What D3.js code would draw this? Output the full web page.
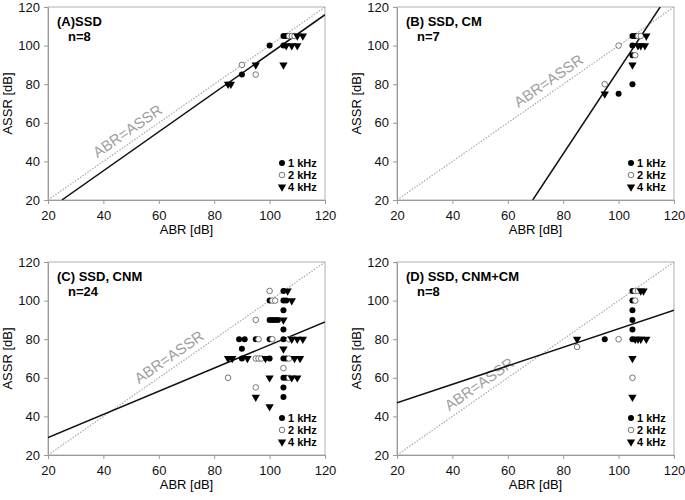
<!DOCTYPE html>
<html>
<head>
<meta charset="utf-8">
<script src="https://cdn.jsdelivr.net/npm/d3@7"></script>
<style>
body{margin:0;background:#fff}
svg{font-family:"Liberation Sans",Arial,sans-serif}
</style>
</head>
<body>
<svg id="chart" width="685" height="500"></svg>
<script>
// axis ticks (dB) and legend
const tickVals = [20, 40, 60, 80, 100, 120];
const freqLabels = ['1 kHz', '2 kHz', '4 kHz'];
const panelTitles = ['(A)SSD', '(B) SSD, CM', '(C) SSD, CNM', '(D) SSD, CNM+CM'];
const panelN = ['n=8', 'n=7', 'n=24', 'n=8'];

// (A) SSD  [ABR, ASSR]
const ssd1k = [[90,85],[100,100],[105,105],[106,105],[105,100]];
const ssd2k = [[90,90],[95,85],[107,105],[108,105],[109,105]];
const ssd4k = [[85,80],[86,80],[95,90],[105,90],[110,105],[112,105],[106,100],[108,100],[110,100]];
const ssdFit = [[25,20],[120,116]];

// (B) SSD, CM
const cm1k = [[105,105],[106,105],[105,100],[105,95],[105,80],[100,75]];
const cm2k = [[100,100],[107,105],[108,105],[106,95],[95,80]];
const cm4k = [[110,105],[107,100],[108,100],[109.5,100],[105,90],[95,75]];
const cmFit = [[69,20],[115,120]];

// (C) SSD, CNM
const cnm1k = [[105,105],[100,100],[105,100],[106,100],[105,95],[100,90],[101,90],[102,90],[103,90],
  [105,85],[89,80],[91,80],[95,80],[100,80],[105,80],[90,75],[90,70],[100,70],[105,70],[106,70],
  [105,60],[106,60],[105,55],[105,50]];
const cnm2k = [[100,105],[101,100],[102,100],[95,90],[96,80],[101,80],[107,80],[95,70],[96,70],[97,70],
  [107,70],[105,65],[85,60],[107,60],[95,55]];
const cnm4k = [[106.5,105],[108,100],[105,90],[108,80],[110,80],[112,80],[105,75],[85,70],[86.5,70],
  [92,70],[98.5,70],[109,70],[111,70],[100,60],[108,60],[110,60],[95,50],[100,45]];
const cnmFit = [[20,29],[120,89]];

// (D) SSD, CNM+CM
const mix1k = [[105,105],[105,100],[105,95],[105,90],[105,85],[95,80],[105,80]];
const mix2k = [[106,105],[107,105],[106,100],[100,80],[85,76],[105,60]];
const mix4k = [[108,105],[109,105],[85,80],[106,80],[107,80],[108,80],[110,80],[105,70],[105,50]];
const mixFit = [[20,47],[120,95]];

const panelData = [
  {k1: ssd1k, k2: ssd2k, k4: ssd4k, fit: ssdFit, labelAt: 51},
  {k1: cm1k, k2: cm2k, k4: cm4k, fit: cmFit, labelAt: 77},
  {k1: cnm1k, k2: cnm2k, k4: cnm4k, fit: cnmFit, labelAt: 66},
  {k1: mix1k, k2: mix2k, k4: mix4k, fit: mixFit, labelAt: 52}
];

// layout of the four plot boxes
const boxes = [
  {left: 48, right: 325, top: 7, bottom: 200},
  {left: 397, right: 674, top: 7, bottom: 200},
  {left: 48, right: 325, top: 262, bottom: 455},
  {left: 397, right: 674, top: 262, bottom: 455}
];

const svg = d3.select('#chart');
const gray = '#9a9a9a';
const tri = d3.symbol().type(d3.symbolTriangle).size(30);

boxes.forEach((b, i) => {
  const d = panelData[i];
  const x = d3.scaleLinear().domain([20, 120]).range([b.left, b.right]);
  const y = d3.scaleLinear().domain([20, 120]).range([b.bottom, b.top]);
  const g = svg.append('g');

  g.append('clipPath').attr('id', 'clip' + i)
    .append('rect').attr('x', b.left).attr('y', b.top)
    .attr('width', b.right - b.left).attr('height', b.bottom - b.top);

  g.append('rect')
    .attr('x', b.left).attr('y', b.top)
    .attr('width', b.right - b.left).attr('height', b.bottom - b.top)
    .attr('fill', 'none').attr('stroke', '#b0b0b0').attr('stroke-width', 1);

  const xAxis = g.append('g').attr('transform', `translate(0,${b.bottom})`)
    .call(d3.axisBottom(x).tickValues(tickVals).tickSize(4).tickSizeOuter(0).tickPadding(4));
  const yAxis = g.append('g').attr('transform', `translate(${b.left},0)`)
    .call(d3.axisLeft(y).tickValues(tickVals).tickSize(4).tickSizeOuter(0).tickPadding(4));
  [xAxis, yAxis].forEach(a => {
    a.select('.domain').attr('stroke', gray);
    a.selectAll('.tick line').attr('stroke', gray);
    a.selectAll('.tick text').attr('font-size', 13).attr('fill', '#111')
      .attr('font-family', '"Liberation Sans",Arial,sans-serif');
  });
  xAxis.selectAll('.tick text').attr('dy', '0.9em');

  g.append('text')
    .attr('x', (b.left + b.right) / 2).attr('y', b.bottom + 34)
    .attr('text-anchor', 'middle').attr('font-size', 13).text('ABR [dB]');
  g.append('text')
    .attr('transform', `translate(${b.left - 36},${(b.top + b.bottom) / 2}) rotate(-90)`)
    .attr('text-anchor', 'middle').attr('font-size', 13).text('ASSR [dB]');

  const plot = g.append('g').attr('clip-path', `url(#clip${i})`);

  // identity line ABR=ASSR
  plot.append('line')
    .attr('x1', x(20)).attr('y1', y(20)).attr('x2', x(120)).attr('y2', y(120))
    .attr('stroke', '#a8a8a8').attr('stroke-width', 1.2).attr('stroke-dasharray', '1.5,1.5');

  const ang = -Math.atan((b.bottom - b.top) / (b.right - b.left)) * 180 / Math.PI;
  plot.append('text')
    .attr('transform', `translate(${x(d.labelAt)},${y(d.labelAt)}) rotate(${ang}) translate(0,-6)`)
    .attr('text-anchor', 'middle').attr('font-size', 15).attr('fill', '#a0a0a0')
    .text('ABR=ASSR');

  // regression line
  plot.append('line')
    .attr('x1', x(d.fit[0][0])).attr('y1', y(d.fit[0][1]))
    .attr('x2', x(d.fit[1][0])).attr('y2', y(d.fit[1][1]))
    .attr('stroke', '#111').attr('stroke-width', 1.5);

  plot.selectAll('.k1').data(d.k1).join('circle')
    .attr('cx', p => x(p[0])).attr('cy', p => y(p[1])).attr('r', 3).attr('fill', '#000');
  plot.selectAll('.k2').data(d.k2).join('circle')
    .attr('cx', p => x(p[0])).attr('cy', p => y(p[1])).attr('r', 2.8)
    .attr('fill', '#fff').attr('stroke', '#555').attr('stroke-width', 0.8);
  plot.selectAll('.k4').data(d.k4).join('path')
    .attr('d', tri)
    .attr('transform', p => `translate(${x(p[0])},${y(p[1])}) rotate(180)`)
    .attr('fill', '#000');

  // titles
  g.append('text').attr('x', b.left + 9).attr('y', b.top + 19)
    .attr('font-size', 13).attr('font-weight', 'bold').text(panelTitles[i]);
  g.append('text').attr('x', b.left + 20).attr('y', b.top + 34)
    .attr('font-size', 13).attr('font-weight', 'bold').text(panelN[i]);

  // legend
  const lg = g.append('g');
  freqLabels.forEach((lab, j) => {
    const ly = b.bottom - 37 + j * 12;
    const lx = b.right - 43;
    if (j === 0) lg.append('circle').attr('cx', lx).attr('cy', ly).attr('r', 3).attr('fill', '#000');
    if (j === 1) lg.append('circle').attr('cx', lx).attr('cy', ly).attr('r', 2.8)
      .attr('fill', '#fff').attr('stroke', '#555').attr('stroke-width', 0.8);
    if (j === 2) lg.append('path').attr('d', tri)
      .attr('transform', `translate(${lx},${ly}) rotate(180)`).attr('fill', '#000');
    lg.append('text').attr('x', lx + 6).attr('y', ly + 4)
      .attr('font-size', 11).attr('font-weight', 'bold').text(lab);
  });
});
</script>
</body>
</html>
